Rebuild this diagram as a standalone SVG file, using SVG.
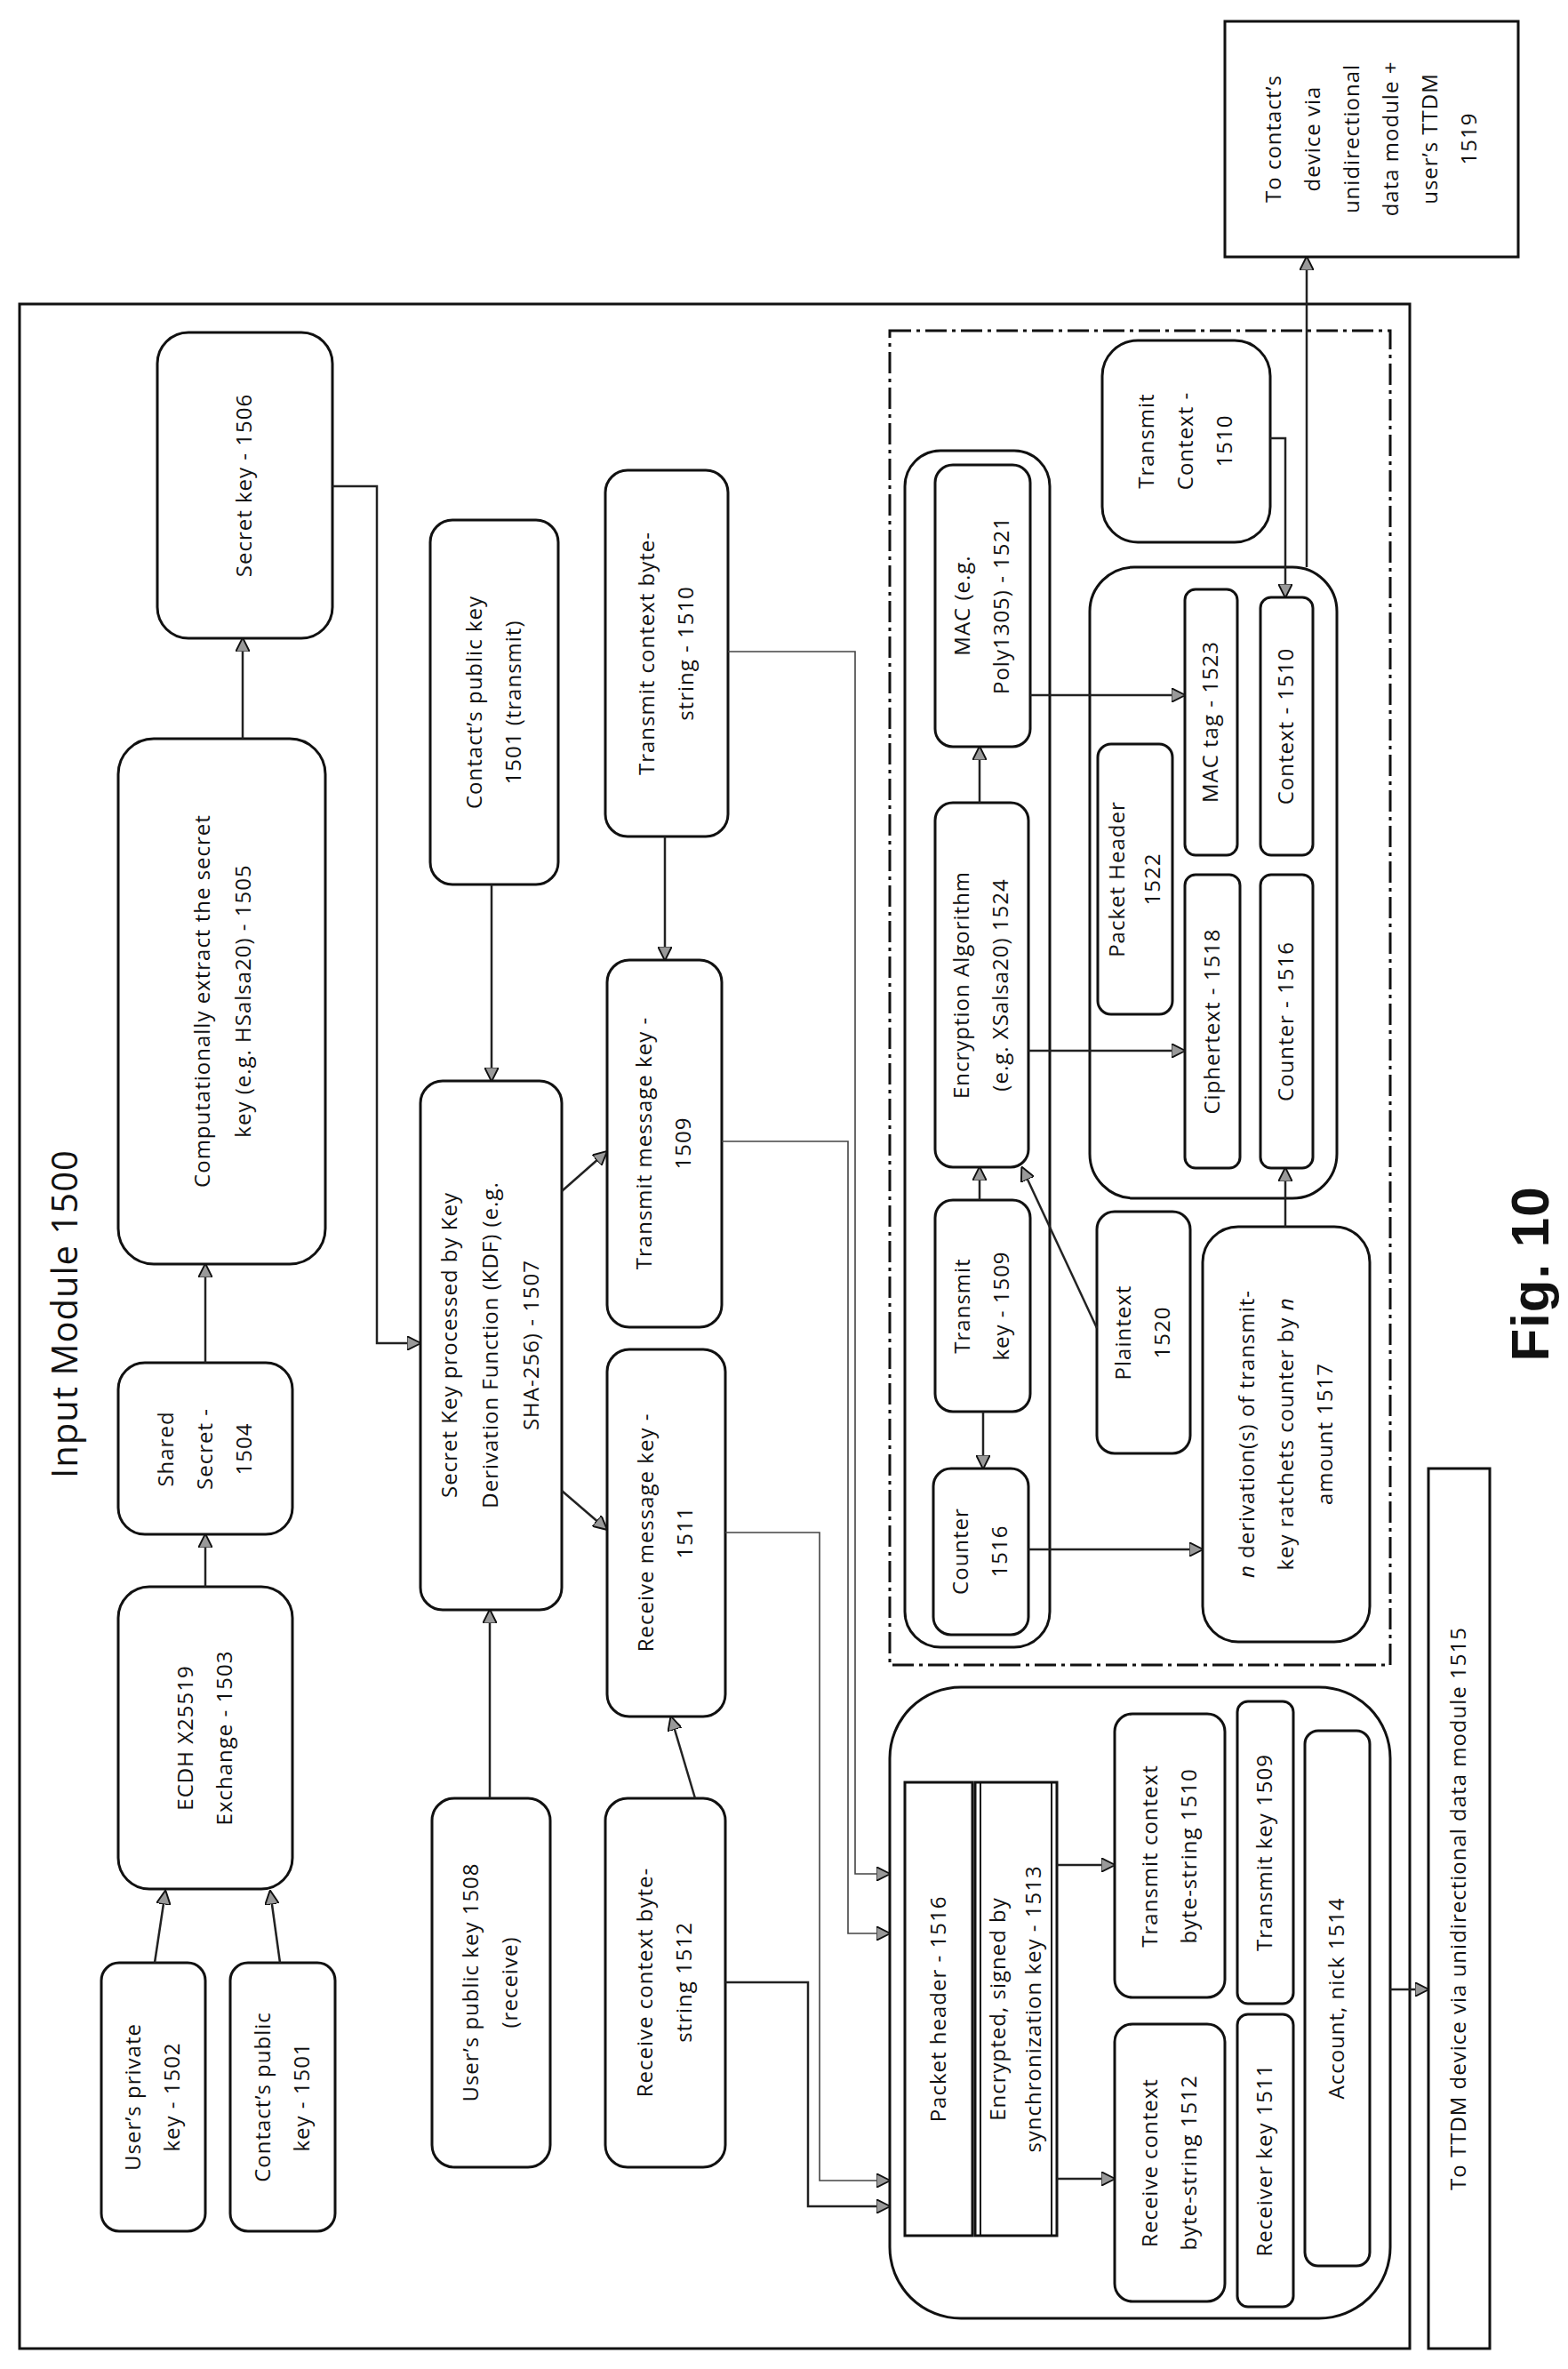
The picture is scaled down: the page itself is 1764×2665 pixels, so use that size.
<svg xmlns="http://www.w3.org/2000/svg" width="1764" height="2665" viewBox="0 0 1764 2665">
<style>
rect{fill:#fff;stroke:#111;stroke-width:3}
.c{fill:none;stroke:#222;stroke-width:2.5}
.t{fill:none;stroke:#444;stroke-width:1.6}
text{font-family:"Open Sans","Liberation Sans",sans-serif;font-size:24px;fill:#111;text-anchor:middle;letter-spacing:1px}
</style>
<defs>
<marker id="a" viewBox="0 0 10 10" refX="9" refY="5" markerWidth="16" markerHeight="16" markerUnits="userSpaceOnUse" orient="auto"><path d="M0,0 L10,5 L0,10 z" fill="#999" stroke="#111" stroke-width="1.2"/></marker>
</defs>
<rect width="1764" height="2665" style="fill:#fff;stroke:none"/>
<g id="outer"><rect x="22" y="342" width="1564" height="2300"/>
<text transform="translate(73,1478) rotate(-90)" dy="14" style="font-size:40px">Input Module 1500</text></g>
<rect x="1001" y="372" width="563" height="1501" style="fill:none;stroke-dasharray:24,6,4,6"/>
<rect x="1018" y="507" width="163" height="1346" rx="40" style="fill:none"/>
<rect x="1226" y="638" width="278" height="710" rx="50" style="fill:none"/>
<rect x="1001" y="1898" width="563" height="710" rx="80" style="fill:none"/>

<g id="n1502"><rect x="114" y="2208" width="117" height="302" rx="20"/><text transform="translate(172,2359) rotate(-90)"><tspan x="0" y="-14">User’s private</tspan><tspan x="0" y="30">key - 1502</tspan></text></g>
<g id="n1501a"><rect x="259" y="2208" width="118" height="302" rx="20"/><text transform="translate(318,2359) rotate(-90)"><tspan x="0" y="-14">Contact’s public</tspan><tspan x="0" y="30">key - 1501</tspan></text></g>
<g id="n1503"><rect x="133" y="1785" width="196" height="340" rx="35"/><text transform="translate(231,1955) rotate(-90)"><tspan x="0" y="-14">ECDH X25519</tspan><tspan x="0" y="30">Exchange - 1503</tspan></text></g>
<g id="n1504"><rect x="133" y="1533" width="196" height="193" rx="30"/><text transform="translate(231,1630) rotate(-90)"><tspan x="0" y="-36">Shared</tspan><tspan x="0" y="8">Secret -</tspan><tspan x="0" y="52">1504</tspan></text></g>
<g id="n1505"><rect x="133" y="831" width="233" height="591" rx="40"/><text transform="translate(250,1126) rotate(-90)"><tspan x="0" y="-14">Computationally extract the secret</tspan><tspan x="0" y="32">key (e.g. HSalsa20) - 1505</tspan></text></g>
<g id="n1506"><rect x="177" y="374" width="197" height="344" rx="35"/><text transform="translate(275,546) rotate(-90)" dy="8">Secret key - 1506</text></g>
<g id="n1501b"><rect x="484" y="585" width="144" height="410" rx="25"/><text transform="translate(556,790) rotate(-90)"><tspan x="0" y="-14">Contact’s public key</tspan><tspan x="0" y="30">1501 (transmit)</tspan></text></g>
<g id="n1507"><rect x="473" y="1216" width="159" height="595" rx="25"/><text transform="translate(552,1513) rotate(-90)"><tspan x="0" y="-38">Secret Key processed by Key</tspan><tspan x="0" y="8">Derivation Function (KDF) (e.g.</tspan><tspan x="0" y="54">SHA-256) - 1507</tspan></text></g>
<g id="n1508"><rect x="486" y="2023" width="133" height="415" rx="25"/><text transform="translate(552,2230) rotate(-90)"><tspan x="0" y="-14">User’s public key 1508</tspan><tspan x="0" y="30">(receive)</tspan></text></g>
<g id="n1510a"><rect x="681" y="529" width="138" height="412" rx="25"/><text transform="translate(750,735) rotate(-90)"><tspan x="0" y="-14">Transmit context byte-</tspan><tspan x="0" y="30">string - 1510</tspan></text></g>
<g id="n1509a"><rect x="683" y="1080" width="129" height="413" rx="25"/><text transform="translate(747,1286) rotate(-90)"><tspan x="0" y="-14">Transmit message key -</tspan><tspan x="0" y="30">1509</tspan></text></g>
<g id="n1511a"><rect x="683" y="1518" width="133" height="413" rx="25"/><text transform="translate(749,1724) rotate(-90)"><tspan x="0" y="-14">Receive message key -</tspan><tspan x="0" y="30">1511</tspan></text></g>
<g id="n1512a"><rect x="681" y="2023" width="135" height="415" rx="25"/><text transform="translate(748,2230) rotate(-90)"><tspan x="0" y="-14">Receive context byte-</tspan><tspan x="0" y="30">string 1512</tspan></text></g>

<g id="n1521"><rect x="1052" y="523" width="107" height="317" rx="20"/><text transform="translate(1105,681) rotate(-90)"><tspan x="0" y="-14">MAC (e.g.</tspan><tspan x="0" y="30">Poly1305) - 1521</tspan></text></g>
<g id="n1524"><rect x="1052" y="903" width="105" height="410" rx="20"/><text transform="translate(1104,1108) rotate(-90)"><tspan x="0" y="-14">Encryption Algorithm</tspan><tspan x="0" y="30">(e.g. XSalsa20) 1524</tspan></text></g>
<g id="n1509b"><rect x="1052" y="1350" width="107" height="238" rx="20"/><text transform="translate(1105,1469) rotate(-90)"><tspan x="0" y="-14">Transmit</tspan><tspan x="0" y="30">key - 1509</tspan></text></g>
<g id="n1516a"><rect x="1050" y="1652" width="107" height="187" rx="20"/><text transform="translate(1103,1745) rotate(-90)"><tspan x="0" y="-14">Counter</tspan><tspan x="0" y="30">1516</tspan></text></g>
<g id="n1520"><rect x="1234" y="1363" width="105" height="272" rx="20"/><text transform="translate(1286,1499) rotate(-90)"><tspan x="0" y="-14">Plaintext</tspan><tspan x="0" y="30">1520</tspan></text></g>
<g id="n1517"><rect x="1353" y="1380" width="188" height="467" rx="40"/><text transform="translate(1447,1613) rotate(-90)"><tspan x="0" y="-36"><tspan font-style="italic">n</tspan> derivation(s) of transmit-</tspan><tspan x="0" y="8">key ratchets counter by <tspan font-style="italic">n</tspan></tspan><tspan x="0" y="52">amount 1517</tspan></text></g>
<g id="n1510b"><rect x="1240" y="383" width="189" height="227" rx="40"/><text transform="translate(1334,496) rotate(-90)"><tspan x="0" y="-36">Transmit</tspan><tspan x="0" y="8">Context -</tspan><tspan x="0" y="52">1510</tspan></text></g>
<g id="n1522"><rect x="1235" y="837" width="84" height="304" rx="15"/><text transform="translate(1277,989) rotate(-90)"><tspan x="0" y="-12">Packet Header</tspan><tspan x="0" y="28">1522</tspan></text></g>
<g id="n1523"><rect x="1333" y="663" width="59" height="299" rx="12"/><text transform="translate(1362,812) rotate(-90)" dy="8">MAC tag - 1523</text></g>
<g id="n1510c"><rect x="1418" y="672" width="59" height="290" rx="12"/><text transform="translate(1447,817) rotate(-90)" dy="8">Context - 1510</text></g>
<g id="n1518"><rect x="1333" y="984" width="62" height="330" rx="12"/><text transform="translate(1364,1149) rotate(-90)" dy="8">Ciphertext - 1518</text></g>
<g id="n1516b"><rect x="1418" y="984" width="59" height="330" rx="12"/><text transform="translate(1447,1149) rotate(-90)" dy="8">Counter - 1516</text></g>
<g id="n1519"><rect x="1378" y="24" width="330" height="265"/><text transform="translate(1543,156) rotate(-90)"><tspan x="0" y="-102">To contact’s</tspan><tspan x="0" y="-58">device via</tspan><tspan x="0" y="-14">unidirectional</tspan><tspan x="0" y="30">data module +</tspan><tspan x="0" y="74">user’s TTDM</tspan><tspan x="0" y="118">1519</tspan></text></g>

<g id="n1516c"><rect x="1018" y="2005" width="76" height="510"/><text transform="translate(1056,2260) rotate(-90)" dy="8">Packet header - 1516</text></g>
<g id="n1513"><rect x="1097" y="2005" width="92" height="510"/><rect x="1103" y="2005" width="80" height="510" style="fill:none;stroke-width:2"/><text transform="translate(1143,2260) rotate(-90)"><tspan x="0" y="-12">Encrypted, signed by</tspan><tspan x="0" y="28">synchronization key - 1513</tspan></text></g>
<g id="n1510d"><rect x="1254" y="1928" width="124" height="319" rx="20"/><text transform="translate(1316,2088) rotate(-90)"><tspan x="0" y="-14">Transmit context</tspan><tspan x="0" y="30">byte-string 1510</tspan></text></g>
<g id="n1509c"><rect x="1392" y="1914" width="63" height="340" rx="12"/><text transform="translate(1423,2084) rotate(-90)" dy="8">Transmit key 1509</text></g>
<g id="n1512b"><rect x="1254" y="2277" width="124" height="312" rx="20"/><text transform="translate(1316,2433) rotate(-90)"><tspan x="0" y="-14">Receive context</tspan><tspan x="0" y="30">byte-string 1512</tspan></text></g>
<g id="n1511b"><rect x="1392" y="2266" width="63" height="329" rx="12"/><text transform="translate(1423,2430) rotate(-90)" dy="8">Receiver key 1511</text></g>
<g id="n1514"><rect x="1468" y="1947" width="73" height="602" rx="15"/><text transform="translate(1504,2248) rotate(-90)" dy="8">Account, nick 1514</text></g>
<g id="n1515"><rect x="1607" y="1652" width="69" height="990"/><text transform="translate(1641,2147) rotate(-90)" dy="8">To TTDM device via unidirectional data module 1515</text></g>
<text transform="translate(1722,1433) rotate(-90)" dy="20" style="font-size:60px;font-weight:bold;font-family:'Liberation Sans',sans-serif">Fig. 10</text>

<g id="connectors" marker-end="url(#a)">
<path class="c" d="M174,2208 L186,2128"/>
<path class="c" d="M315,2208 L304,2128"/>
<path class="c" d="M231,1785 V1727"/>
<path class="c" d="M231,1533 V1423"/>
<path class="c" d="M273,831 V719"/>
<path class="c" d="M374,547 H424 V1511 H472"/>
<path class="c" d="M553,995 V1215"/>
<path class="c" d="M551,2023 V1812"/>
<path class="c" d="M632,1340 L682,1296"/>
<path class="c" d="M632,1677 L682,1720"/>
<path class="c" d="M748,941 V1079"/>
<path class="c" d="M782,2023 L755,1932"/>
<path class="t" d="M819,733 H962 V2108 H1000"/>
<path class="t" d="M812,1284 H954 V2175 H1000"/>
<path class="t" d="M816,1724 H922 V2453 H1000"/>
<path class="c" d="M816,2230 H909 V2482 H1000"/>
<path class="c" d="M1189,2098 H1253"/>
<path class="c" d="M1189,2451 H1253"/>
<path class="c" d="M1564,2238 H1606"/>
<path class="c" d="M1106,1588 V1651"/>
<path class="c" d="M1157,1743 H1352"/>
<path class="c" d="M1102,1350 V1314"/>
<path class="c" d="M1234,1494 L1150,1314"/>
<path class="c" d="M1102,903 V841"/>
<path class="c" d="M1159,782 H1332"/>
<path class="c" d="M1157,1182 H1332"/>
<path class="c" d="M1446,1380 V1315"/>
<path class="c" d="M1429,493 H1446 V671"/>
<path class="c" d="M1470,638 V290"/>
</g>
</svg>
